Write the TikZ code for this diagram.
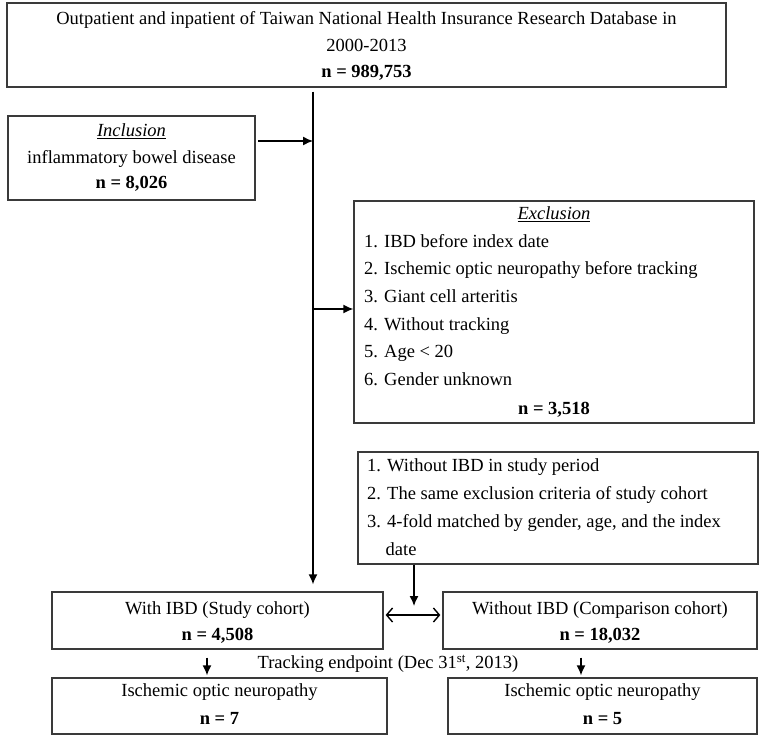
\documentclass[tikz,border=0pt]{standalone}
\usepackage{fontspec}
\setmainfont{Liberation Serif}
\usetikzlibrary{arrows.meta}
\definecolor{boxgray}{HTML}{3A3A3A}
\begin{document}
\begin{tikzpicture}[x=1pt,y=-1pt,
  box/.style={draw=boxgray, line width=1.3pt, inner sep=0pt, fill=white},
  txt/.style={inner sep=0pt, text height=13pt, text depth=4pt, font=\fontsize{18.5}{27}\selectfont},
  arr/.style={line width=1.4pt, -{Latex[length=10pt,width=9pt]}},
  dbl/.style={line width=1.4pt, {Straight Barb[length=6pt,width=14pt]}-{Straight Barb[length=6pt,width=14pt]}}]
\useasboundingbox (0,0) rectangle (765,739);

% boxes
\node[box, minimum width=719pt, minimum height=84pt] (top) at (366.5,45) {};
\node[box, minimum width=247pt, minimum height=84pt] (incl) at (131.5,158) {};
\node[box, minimum width=400pt, minimum height=222pt] (excl) at (554,312) {};
\node[box, minimum width=400pt, minimum height=112pt] (match) at (558,508) {};
\node[box, minimum width=331pt, minimum height=57pt] (study) at (217.5,620.5) {};
\node[box, minimum width=314pt, minimum height=57pt] (comp) at (600,620.5) {};
\node[box, minimum width=335pt, minimum height=56pt] (ion1) at (219.5,706) {};
\node[box, minimum width=309pt, minimum height=56pt] (ion2) at (602.5,706) {};

% texts
\node[txt] (t1) at (366.5,20) {Outpatient and inpatient of Taiwan National Health Insurance Research Database in};
\node[txt] (t2) at (366.5,47) {2000-2013};
\node[txt] (t3) at (366.5,73) {\textbf{n = 989,753}};

\node[txt] (i1) at (131.5,132) {\underline{\textit{Inclusion}}};
\node[txt] (i2) at (131.5,159) {inflammatory bowel disease};
\node[txt] (i3) at (131.5,184) {\textbf{n = 8,026}};

\node[txt] (e0) at (554,215) {\underline{\textit{Exclusion}}};
\node[txt, anchor=west] (e1) at (364,243) {1. IBD before index date};
\node[txt, anchor=west] (e2) at (364,270) {2. Ischemic optic neuropathy before tracking};
\node[txt, anchor=west] (e3) at (364,298) {3. Giant cell arteritis};
\node[txt, anchor=west] (e4) at (364,326) {4. Without tracking};
\node[txt, anchor=west] (e5) at (364,353) {5. Age < 20};
\node[txt, anchor=west] (e6) at (364,381) {6. Gender unknown};
\node[txt] (e7) at (554,410) {\textbf{n = 3,518}};

\node[txt, anchor=west] (m1) at (367,467) {1. Without IBD in study period};
\node[txt, anchor=west] (m2) at (367,495) {2. The same exclusion criteria of study cohort};
\node[txt, anchor=west] (m3) at (367,523) {3. 4-fold matched by gender, age, and the index};
\node[txt, anchor=west] (m4) at (385.5,551) {date};

\node[txt] (s1) at (217.5,610) {With IBD (Study cohort)};
\node[txt] (s2) at (217.5,636) {\textbf{n = 4,508}};
\node[txt] (c1) at (600,610) {Without IBD (Comparison cohort)};
\node[txt] (c2) at (600,636) {\textbf{n = 18,032}};

\node[txt] (trk) at (388,664) {Tracking endpoint (Dec 31\textsuperscript{st}, 2013)};

\node[txt] (o1) at (219.5,692) {Ischemic optic neuropathy};
\node[txt] (o2) at (219.5,720) {\textbf{n = 7}};
\node[txt] (p1) at (602.5,692) {Ischemic optic neuropathy};
\node[txt] (p2) at (602.5,720) {\textbf{n = 5}};

% connectors
\coordinate (tx) at (313,0);
\draw[arr, shorten <=4pt, shorten >=7pt] (top.south -| tx) -- (study.north -| tx);
\coordinate (ia) at (258,141);
\draw[arr] (ia) -- (ia -| tx);
\coordinate (ea) at (313,309);
\draw[arr] (ea) -- (ea -| excl.west);
\coordinate (ma) at (414,0);
\coordinate (mb) at (414,606);
\draw[arr] (match.south -| ma) -- (mb);
\coordinate (dy) at (0,615);
\draw[dbl, shorten <=2pt, shorten >=2pt] (study.east |- dy) -- (comp.west |- dy);
\coordinate (la) at (207,0);
\draw[arr, shorten <=8pt, shorten >=2pt] (study.south -| la) -- (ion1.north -| la);
\coordinate (ra) at (581,0);
\draw[arr, shorten <=8pt, shorten >=2pt] (comp.south -| ra) -- (ion2.north -| ra);
\end{tikzpicture}
\end{document}
